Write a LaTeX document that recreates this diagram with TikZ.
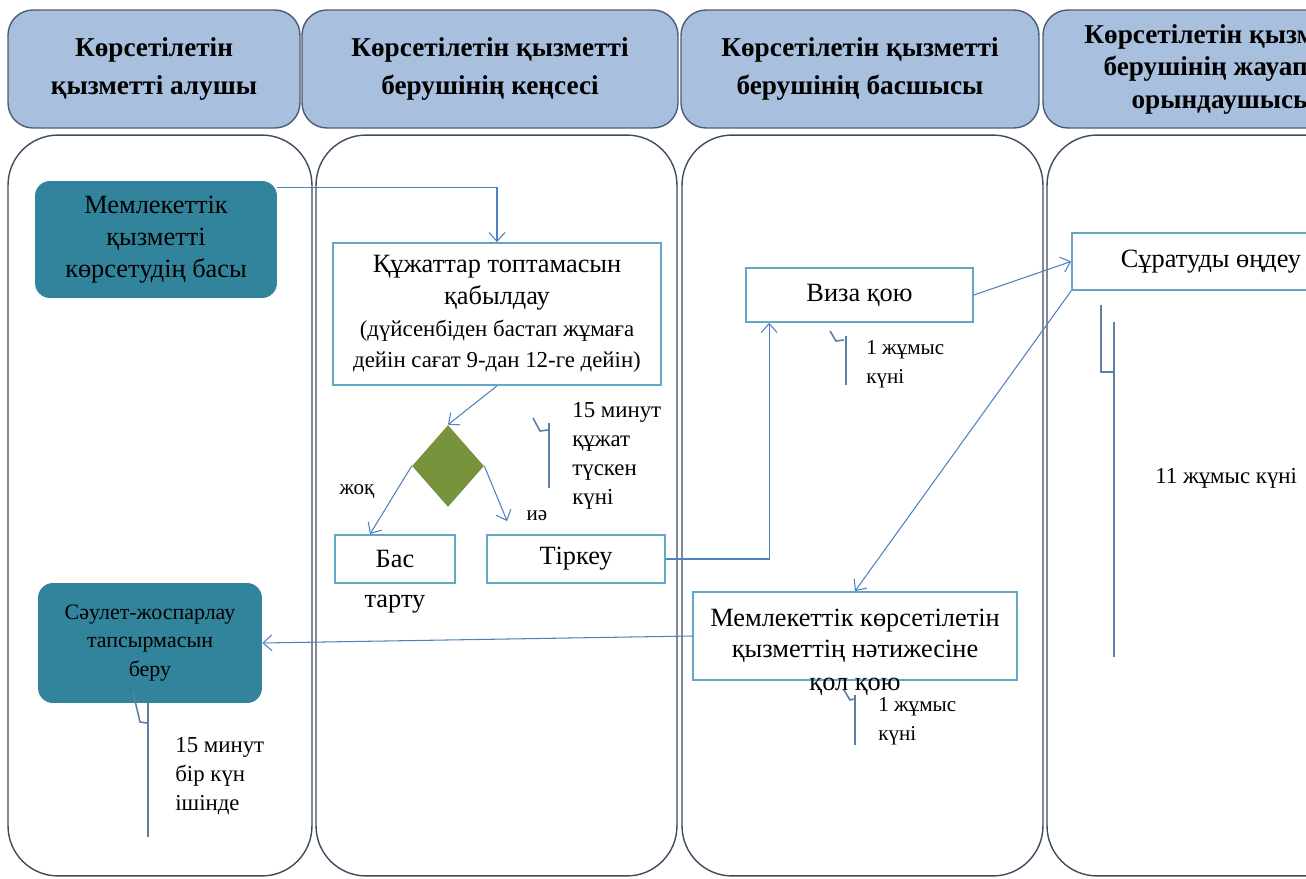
\documentclass[tikz,border=0pt]{standalone}
\usepackage{fontspec}
\setmainfont{Liberation Serif}
\usetikzlibrary{positioning,shapes.geometric,arrows.meta}

\definecolor{headfill}{HTML}{A8BFDD}
\definecolor{headedge}{HTML}{4A5C74}
\definecolor{laneedge}{HTML}{3E4B5C}
\definecolor{tealfill}{HTML}{31849B}
\definecolor{boxedge}{HTML}{62A8C4}
\definecolor{arrowblue}{HTML}{4F81BD}
\definecolor{olivefill}{HTML}{77933C}
\definecolor{spanblue}{HTML}{5D7EA6}

\tikzset{
  head/.style={draw=headedge, fill=headfill, rounded corners=0.5cm, line width=0.8pt,
    align=center, minimum height=2.36cm, font=\fontsize{15.5}{21.5}\selectfont\bfseries},
  lane/.style={draw=laneedge, rounded corners=1cm, line width=0.8pt, minimum height=14.82cm},
  startbox/.style={fill=tealfill, rounded corners=0.3cm, align=center,
    font=\fontsize{15}{18}\selectfont},
  procbox/.style={draw=boxedge, line width=1pt, fill=white, align=center,
    font=\fontsize{15}{18}\selectfont},
  plain/.style={inner sep=0pt, font=\fontsize{15}{18}\selectfont},
  note/.style={inner sep=0pt, align=left, font=\fontsize{13}{16.5}\selectfont},
  arr/.style={draw=arrowblue, line width=0.6pt, -{Straight Barb[length=5pt,width=9pt]}},
  span/.style={draw=spanblue, line width=1.6pt},
  hook/.style={draw=spanblue, line width=0.9pt},
}

\begin{document}
\begin{tikzpicture}[x=0.02cm,y=-0.02cm]
  \useasboundingbox (0,0) rectangle (1306,879);
  \clip (0,0) rectangle (1306,879);

  \node[head, minimum width=5.84cm] (h1) at (154,69) {Көрсетілетін\\қызметті алушы};
  \node[head, minimum width=7.52cm] (h2) at (490,69) {Көрсетілетін қызметті\\берушінің кеңсесі};
  \node[head, minimum width=7.16cm] (h3) at (860,69) {Көрсетілетін қызметті\\берушінің басшысы};
  \node[head, minimum width=7.2cm, font=\fontsize{15.5}{18.5}\selectfont\bfseries] (h4) at (1223,69)
    {Көрсетілетін қызметті\\берушінің жауапты\\орындаушысы};

  \node[lane, minimum width=6.08cm] (l1) at (160,505.5) {};
  \node[lane, minimum width=7.22cm] (l2) at (496.5,505.5) {};
  \node[lane, minimum width=7.22cm] (l3) at (862.5,505.5) {};
  \node[lane, minimum width=7.26cm] (l4) at (1228.5,505.5) {};

  \node[startbox, minimum width=4.84cm, minimum height=2.34cm] (start) at (156,239.5)
    {Мемлекеттік\\қызметті\\көрсетудің басы};
  \node[procbox, minimum width=6.56cm, minimum height=2.84cm] (receive) at (497,314)
    {Құжаттар топтамасын\\қабылдау\\\fontsize{13}{19.5}\selectfont(дүйсенбіден бастап жұмаға\\\fontsize{13}{19.5}\selectfont дейін сағат 9-дан 12-ге дейін)};
  \node[diamond, fill=olivefill, minimum width=1.44cm, minimum height=1.64cm, inner sep=0pt] (decision) at (448,466) {};
  \node[procbox, minimum width=2.4cm, minimum height=0.96cm] (reject) at (395,559) {Бас};
  \node[plain, below=6pt of reject] (rejecttail) {тарту};
  \node[procbox, minimum width=3.56cm, minimum height=0.96cm] (register) at (576,559) {Тіркеу};
  \node[procbox, minimum width=4.54cm, minimum height=1.08cm] (visa) at (859.5,295) {Виза қою};
  \node[procbox, minimum width=5.56cm, minimum height=1.14cm] (process) at (1211,261.5) {Сұратуды өңдеу};
  \node[procbox, minimum width=6.48cm, minimum height=1.76cm] (result) at (855,636)
    {Мемлекеттік көрсетілетін\\қызметтің нәтижесіне};
  \node[plain] (resulttail) at ([yshift=-0.12cm]result.south) {қол қою};
  \node[startbox, minimum width=4.48cm, minimum height=2.4cm, font=\fontsize{12.5}{16}\selectfont] (final) at (150,643)
    {Сәулет-жоспарлау\\тапсырмасын\\беру};

  \node[plain, font=\fontsize{12}{14}\selectfont] (no) at (357,492) {жоқ};
  \node[plain, font=\fontsize{12}{14}\selectfont] (yes) at (537,516) {иә};

  \draw[arr] ([yshift=-0.14cm]start.north east) -| (receive.north);
  \draw[arr] (receive.south) -- (decision.north);
  \draw[arr] (decision.west) -- ([xshift=-0.5cm]reject.north);
  \draw[arr] (decision.east) -- ([xshift=0.42cm,yshift=0.26cm]register.north west);
  \draw[arr] (register.east) -| ([xshift=0.48cm]visa.south west);
  \draw[arr] (visa.east) -- (process.west);
  \draw[arr] (process.south west) -- (result.north);
  \draw[arr] (result.west) -- (final.east);

  % time marks
  \draw[hook] (533,418) -- (540,431) -- (548,430);
  \draw[span] (549,423) -- (549,488);
  \node[note, anchor=north west] (t1) at (572,402) {15 минут\\құжат\\түскен\\күні};
  \draw[hook] (830,331) -- (836,341) -- (844,340);
  \draw[span] (846,336) -- (846,385);
  \node[note, anchor=north west, font=\fontsize{12}{16.5}\selectfont] (t2) at (866,340) {1 жұмыс\\күні};
  \draw[hook] (1101,305) |- (1113,372);
  \draw[span] (1114,322) -- (1114,657);
  \node[note, anchor=west] (t3) at (1155,478) {11 жұмыс күні};
  \draw[hook] (844,690) -- (850,700) -- (854,699);
  \draw[span] (855,695) -- (855,745);
  \node[note, anchor=north west, font=\fontsize{12}{16.5}\selectfont] (t4) at (878,697) {1 жұмыс\\күні};
  \draw[hook] (133,692) -- (140,722) -- (147,723);
  \draw[span] (148,703) -- (148,837);
  \node[note, anchor=north west] (t5) at (175,737) {15 минут\\бір күн\\ішінде};
\end{tikzpicture}
\end{document}
